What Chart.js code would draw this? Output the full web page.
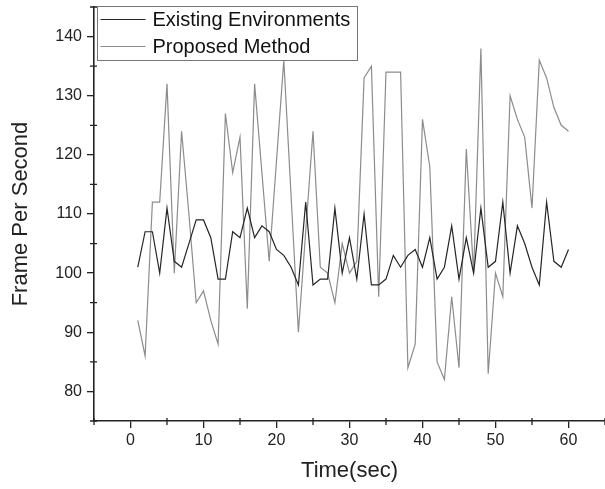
<!DOCTYPE html>
<html>
<head>
<meta charset="utf-8">
<script src="https://cdn.jsdelivr.net/npm/chart.js@4"></script>
<style>
  html, body { margin: 0; padding: 0; background: #fff; overflow: hidden; }
  #wrap { position: relative; width: 608px; height: 489px; }
</style>
</head>
<body>
<div id="wrap"><canvas id="myChart"></canvas></div>
<script>
const times = [1,2,3,4,5,6,7,8,9,10,11,12,13,14,15,16,17,18,19,20,
  21,22,23,24,25,26,27,28,29,30,31,32,33,34,35,36,37,38,39,40,
  41,42,43,44,45,46,47,48,49,50,51,52,53,54,55,56,57,58,59,60];

const existing = [101,107,107,100,111,102,101,105,109,109,106,99,99,
  107,106,111,106,108,107,104,103,101,98,112,98,99,
  99,111,100,106,99,110,98,98,99,103,101,103,104,
  101,106,99,101,108,99,106,100,111,101,102,112,100,
  108,105,101,98,112,102,101,104];

const proposed = [92,86,112,112,132,100,124,110,95,97,92,88,127,
  117,123,94,132,117,102,119,136,113,90,107,124,101,
  100,95,105,100,102,133,135,96,134,134,134,84,88,
  126,118,85,82,96,84,121,100,138,83,100,96,130,
  126,123,111,136,133,128,125,124];

const labels = ["Existing Environments", "Proposed Method"];

const font = "'Liberation Sans', Arial, sans-serif";
const ink = "#222";

function points(ys) {
  return times.map((t, i) => ({ x: t, y: ys[i] }));
}

const isMajor = v => v % 10 === 0;

// short minor ticks that cross the axis line
const minorTicks = {
  id: 'minorTicks',
  afterDraw(chart) {
    const ctx = chart.ctx;
    const a = chart.chartArea;
    ctx.save();
    ctx.strokeStyle = ink;
    ctx.lineWidth = 1.3;
    ctx.beginPath();
    chart.scales.x.ticks.forEach(t => {
      if (isMajor(t.value)) return;
      const px = chart.scales.x.getPixelForValue(t.value);
      ctx.moveTo(px, a.bottom - 3);
      ctx.lineTo(px, a.bottom + 4);
    });
    chart.scales.y.ticks.forEach(t => {
      if (isMajor(t.value)) return;
      const py = chart.scales.y.getPixelForValue(t.value);
      ctx.moveTo(a.left - 4, py);
      ctx.lineTo(a.left + 3, py);
    });
    ctx.stroke();
    ctx.restore();
  }
};

// legend box inside the plot, top left, under the data lines
const boxLegend = {
  id: 'boxLegend',
  beforeDatasetsDraw(chart) {
    const ctx = chart.ctx;
    const a = chart.chartArea;
    const x0 = a.left + 3.5, y0 = 6.5, w = 260, h = 54;
    ctx.save();
    ctx.fillStyle = "#fff";
    ctx.fillRect(x0, y0, w, h);
    ctx.strokeStyle = "#777";
    ctx.lineWidth = 1;
    ctx.strokeRect(x0, y0, w, h);
    ctx.font = "20px " + font;
    ctx.textBaseline = "middle";
    chart.data.datasets.forEach((ds, i) => {
      const y = y0 + 13 + i * 27;
      ctx.strokeStyle = ds.borderColor;
      ctx.lineWidth = 1.2;
      ctx.beginPath();
      ctx.moveTo(x0 + 3, y);
      ctx.lineTo(x0 + 48, y);
      ctx.stroke();
      ctx.fillStyle = "#111";
      ctx.fillText(ds.label, x0 + 55, y + 1);
    });
    ctx.restore();
  }
};

const tickStyle = {
  stepSize: 5,
  autoSkip: false,
  maxRotation: 0,
  color: ink,
  font: { family: font, size: 16 },
  callback: v => (isMajor(v) ? v : '')
};

const gridStyle = {
  drawOnChartArea: false,
  tickLength: 7,
  lineWidth: 1.3,
  tickColor: c => (c.tick && isMajor(c.tick.value) ? ink : 'rgba(0,0,0,0)')
};

const ctx = document.getElementById('myChart').getContext('2d');
const myChart = new Chart(ctx, {
  type: 'line',
  data: {
    datasets: [{
        data: points(existing),
        label: labels[0],
        borderColor: "#262626",
        borderWidth: 1.2,
        pointRadius: 0,
        fill: false,
      }, {
        data: points(proposed),
        label: labels[1],
        borderColor: "#8c8c8c",
        borderWidth: 1.2,
        pointRadius: 0,
        fill: false,
      }
    ]
  },
  options: {
    responsive: true,
    maintainAspectRatio: false,
    animation: false,
    layout: { padding: { top: 7, right: 1, left: 0, bottom: 0 } },
    plugins: {
      legend: { display: false },
      tooltip: { enabled: false }
    },
    scales: {
      x: {
        type: 'linear',
        min: -5,
        max: 65,
        afterFit(scale) { scale.height = 68; },
        ticks: Object.assign({ padding: 3 }, tickStyle),
        grid: gridStyle,
        border: { color: ink, width: 1.6 },
        title: {
          display: true,
          text: 'Time(sec)',
          color: ink,
          font: { family: font, size: 22 },
          padding: { top: 4, bottom: 5 }
        }
      },
      y: {
        min: 75,
        max: 145,
        afterFit(scale) {
          scale.width = 94;
          scale.paddingTop = 0;
          scale.paddingBottom = 0;
        },
        ticks: Object.assign({ padding: 5 }, tickStyle),
        grid: gridStyle,
        border: { color: ink, width: 1.6 },
        title: {
          display: true,
          text: 'Frame Per Second',
          color: ink,
          font: { family: font, size: 22 },
          padding: { top: 8, bottom: 4 }
        }
      }
    }
  },
  plugins: [minorTicks, boxLegend]
});
</script>
</body>
</html>
